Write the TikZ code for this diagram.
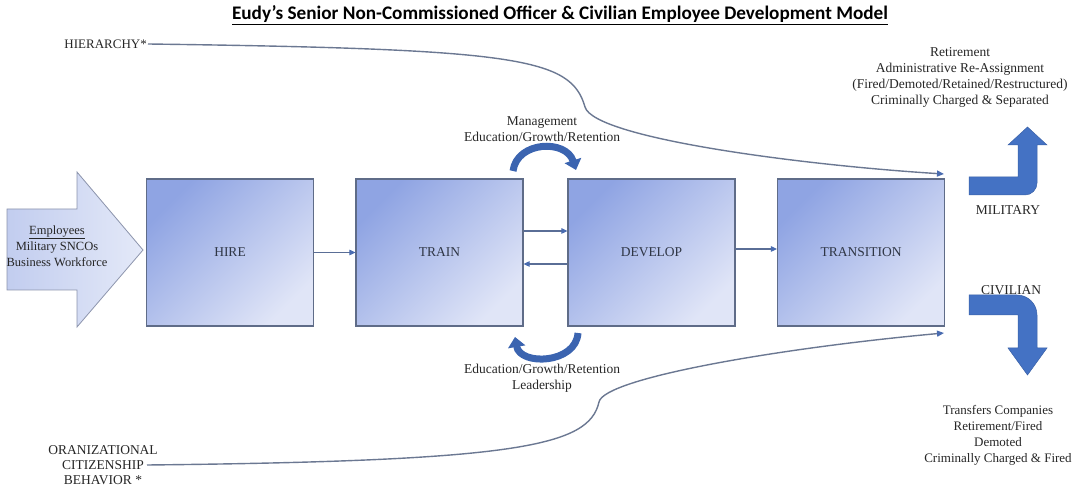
\documentclass[tikz,border=0pt]{standalone}
\usepackage{fontspec}
\setmainfont{Liberation Serif}
\newfontfamily\calibri{Carlito}
\usetikzlibrary{arrows.meta}
\definecolor{boxdark}{HTML}{8FA4E3}
\definecolor{boxlight}{HTML}{E0E5F7}
\definecolor{boxedge}{HTML}{5F6C88}
\definecolor{boxtxt}{HTML}{2F3645}
\definecolor{txt}{HTML}{262626}
\definecolor{linkc}{HTML}{5A6E96}
\definecolor{tipc}{HTML}{4A6CB0}
\definecolor{curvec}{HTML}{6B7892}
\definecolor{arcc}{HTML}{3B64B0}
\definecolor{bentc}{HTML}{4472C4}
\definecolor{empl}{HTML}{C2CDEF}
\definecolor{empr}{HTML}{E4E9F8}
\definecolor{empedge}{HTML}{8C94AC}
\begin{document}
\begin{tikzpicture}[x=1pt,y=1pt,
  lbl/.style={font=\fontsize{13.5}{16}\selectfont, text=txt, align=center, inner sep=0pt},
  caps/.style={lbl, font=\fontsize{13.5}{15.2}\selectfont},
  stage/.style={draw=boxedge, line width=1.2pt, minimum width=167pt, minimum height=147pt,
    inner sep=0pt, top color=boxdark, bottom color=boxlight, shading angle=45,
    font=\fontsize{13.5}{15}\selectfont, text=boxtxt},
  link/.style={draw=linkc, line width=1.1pt, -{Triangle[length=6pt,width=5.5pt,fill=tipc,color=tipc]}},
  flow/.style={draw=curvec, line width=1.4pt, -{Triangle[length=7pt,width=6pt,fill=tipc,color=tipc]}},
  loop/.style={draw=arcc, line width=7pt, -{Triangle[length=10pt,width=17pt,fill=arcc,color=arcc]}},
  bent/.style={fill=bentc, draw=bentc!85!black, line width=0.5pt}
]
\useasboundingbox (0,0) rectangle (1074,490);

% title
\node[font=\calibri\bfseries\fontsize{19.2}{21}\selectfont, text=black, inner sep=0pt] (title) at (560,475)
  {\underline{Eudy’s Senior Non-Commissioned Officer \& Civilian Employee Development Model}};

% employees arrow
\draw[left color=empl, right color=empr, draw=empedge, line width=0.8pt]
  (7,281) -- (77,281) -- (77,318) -- (143,240) -- (77,163) -- (77,200) -- (7,200) -- cycle;
\node[lbl, font=\fontsize{12.5}{16}\selectfont] (emp) at (57,244) {\underline{Employees}\\Military SNCOs\\Business Workforce};

% stages
\node[stage] (hire) at (230,237.5) {HIRE};
\node[stage] (train) at (439.5,237.5) {TRAIN};
\node[stage] (develop) at (651.5,237.5) {DEVELOP};
\node[stage] (transition) at (861,237.5) {TRANSITION};

\draw[link] (hire.east) -- (train.west);
\draw[link] ([yshift=21.5pt]train.east) -- ([yshift=21.5pt]develop.west);
\draw[link] ([yshift=-11.5pt]develop.west) -- ([yshift=-11.5pt]train.east);
\draw[link] ([yshift=3.5pt]develop.east) -- ([yshift=3.5pt]transition.west);

% loop arrows
\coordinate (ta) at (513,319);
\coordinate (tb) at (576,320);
\draw[loop] (ta) .. controls (517,349) and (566,351) .. (tb);
\coordinate (ba) at (578,157);
\coordinate (bb) at (515,153);
\draw[loop] (ba) .. controls (576,126) and (520,124) .. (bb);

\node[lbl] (mgmt) at (542,361) {Management\\Education/Growth/Retention};
\node[lbl] (lead) at (542,112) {Education/Growth/Retention\\Leadership};

% hierarchy and OCB flows
\node[caps, font=\fontsize{13}{15}\selectfont, anchor=east, inner sep=1pt] (hier) at (148,446) {HIERARCHY*};
\coordinate (hierend) at (944,316);
\draw[flow] (hier.east) .. controls (520,441) and (571,432) .. (585,383)
  .. controls (594,352) and (800,325) .. (hierend);

\node[caps] (ocb) at (103,25) {ORANIZATIONAL\\CITIZENSHIP\\BEHAVIOR *};
\coordinate (ocbstart) at (147,25);
\coordinate (ocbend) at (944,157);
\draw[flow] (ocbstart) .. controls (520,29) and (589,44) .. (599,88)
  .. controls (604,112) and (780,142) .. (ocbend);

% outcome texts
\node[lbl] (outtop) at (960,413) {Retirement\\Administrative Re-Assignment\\(Fired/Demoted/Retained/Restructured)\\Criminally Charged \& Separated};
\node[caps] (mil) at (1008,280) {MILITARY};
\node[caps] (civ) at (1011,200) {CIVILIAN};
\node[lbl, font=\fontsize{13}{16.2}\selectfont] (outbot) at (998,54.5) {Transfers Companies\\Retirement/Fired\\Demoted\\Criminally Charged \& Fired};

% bent arrows
\draw[bent] (969,295) -- (1025,295) arc[start angle=-90, end angle=0, radius=12]
  -- (1037,345) -- (1047,345) -- (1027.5,363) -- (1008,345) -- (1018,345)
  -- (1018,313) -- (969,313) -- cycle;
\draw[bent] (969,195) -- (1017,195) arc[start angle=90, end angle=0, radius=20]
  -- (1037,142) -- (1047,142) -- (1027.5,115) -- (1008,142) -- (1018,142)
  -- (1018,175) -- (969,175) -- cycle;
\end{tikzpicture}
\end{document}
